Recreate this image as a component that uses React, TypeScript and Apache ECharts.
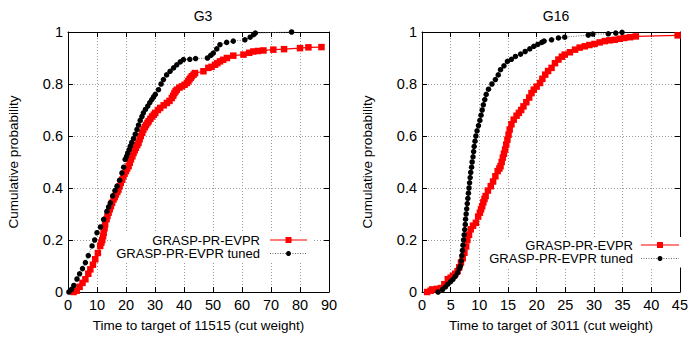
import React, { useEffect, useRef } from "react";
import * as echarts from "echarts";

// ---- data ----
const panelTitles = ["G3", "G16"];
const xAxisNames = ["Time to target of 11515 (cut weight)", "Time to target of 3011 (cut weight)"];
const yAxisName = "Cumulative probability";
const seriesNames = ["GRASP-PR-EVPR", "GRASP-PR-EVPR tuned"];

// G3, GRASP-PR-EVPR (red)
const g3EvprTime = [1.9, 3.0, 4.0, 5.0, 6.0, 7.0, 7.7, 8.6, 9.4, 10.3, 11.1, 11.5, 11.8, 12.1, 12.3, 12.6, 12.8, 13.3, 13.6, 14.0, 14.4, 14.8, 15.2, 15.7, 16.1, 16.5, 17.0, 17.4, 17.8, 18.2, 18.7, 19.1, 19.5, 20.0, 20.4, 20.9, 21.3, 21.7, 22.2, 22.6, 23.0, 23.4, 23.9, 24.3, 24.7, 25.1, 25.6, 26.0, 26.5, 26.9, 27.4, 27.8, 28.4, 29.0, 29.6, 30.1, 31.0, 31.8, 33.0, 34.1, 35.0, 35.8, 36.3, 36.7, 37.1, 37.5, 38.4, 39.3, 40.2, 41.0, 41.5, 41.9, 42.3, 42.7, 43.3, 43.8, 46.7, 48.4, 49.5, 50.7, 51.5, 52.4, 53.5, 54.8, 57.0, 60.5, 62.5, 63.9, 65.5, 67.4, 70.8, 74.5, 80.0, 82.9, 87.4];
const g3EvprProb = [0.0, 0.005, 0.02, 0.035, 0.049, 0.07, 0.087, 0.105, 0.126, 0.15, 0.177, 0.19, 0.2, 0.215, 0.228, 0.245, 0.26, 0.28, 0.292, 0.305, 0.318, 0.33, 0.343, 0.356, 0.365, 0.375, 0.385, 0.394, 0.407, 0.42, 0.432, 0.445, 0.455, 0.465, 0.475, 0.484, 0.497, 0.51, 0.522, 0.535, 0.545, 0.555, 0.565, 0.574, 0.587, 0.6, 0.612, 0.625, 0.634, 0.642, 0.65, 0.657, 0.666, 0.675, 0.682, 0.689, 0.7, 0.708, 0.718, 0.727, 0.735, 0.746, 0.755, 0.765, 0.772, 0.778, 0.786, 0.791, 0.797, 0.804, 0.811, 0.818, 0.824, 0.83, 0.836, 0.842, 0.849, 0.862, 0.866, 0.874, 0.88, 0.887, 0.893, 0.9, 0.909, 0.913, 0.92, 0.925, 0.927, 0.929, 0.932, 0.934, 0.938, 0.941, 0.942];

// G3, GRASP-PR-EVPR tuned (black)
const g3TunedTime = [0.3, 1.2, 2.0, 3.1, 4.0, 5.0, 6.0, 7.0, 8.3, 9.2, 10.0, 11.2, 12.3, 13.4, 14.0, 14.6, 15.4, 16.2, 16.9, 17.8, 18.6, 19.2, 19.7, 20.2, 20.6, 21.1, 21.5, 22.0, 22.6, 23.2, 23.8, 24.3, 24.9, 25.5, 26.0, 26.7, 27.5, 28.2, 28.9, 29.5, 30.1, 31.2, 32.1, 32.9, 34.0, 35.2, 36.4, 37.5, 38.7, 39.8, 42.0, 44.0, 48.1, 49.2, 50.1, 51.3, 52.4, 54.7, 57.0, 61.0, 62.8, 64.0, 64.6, 77.1];
const g3TunedProb = [0.0, 0.01, 0.025, 0.05, 0.07, 0.09, 0.113, 0.14, 0.177, 0.2, 0.228, 0.25, 0.279, 0.31, 0.327, 0.343, 0.37, 0.39, 0.407, 0.43, 0.458, 0.48, 0.51, 0.522, 0.535, 0.548, 0.561, 0.575, 0.59, 0.607, 0.625, 0.642, 0.66, 0.675, 0.689, 0.702, 0.715, 0.728, 0.74, 0.75, 0.76, 0.778, 0.8, 0.817, 0.835, 0.849, 0.862, 0.874, 0.885, 0.894, 0.895, 0.898, 0.9, 0.91, 0.919, 0.935, 0.951, 0.96, 0.965, 0.97, 0.98, 0.99, 0.996, 1.0];

// G16, GRASP-PR-EVPR (red)
const g16EvprTime = [0.9, 1.5, 1.8, 2.6, 3.3, 3.9, 4.5, 5.0, 5.4, 5.8, 6.2, 6.5, 6.8, 7.1, 7.4, 7.7, 7.9, 8.2, 8.5, 8.9, 9.4, 9.8, 10.1, 10.3, 10.5, 10.7, 10.9, 11.1, 11.5, 12.0, 12.4, 12.8, 13.2, 13.5, 13.7, 13.9, 14.1, 14.3, 14.5, 14.7, 14.9, 15.1, 15.3, 15.6, 16.0, 16.5, 16.9, 17.3, 17.7, 18.2, 18.7, 19.1, 19.5, 20.0, 20.6, 21.0, 21.5, 22.0, 22.6, 23.2, 23.8, 24.4, 24.9, 25.8, 26.7, 27.5, 28.4, 29.2, 30.1, 31.0, 31.9, 32.7, 33.6, 34.5, 35.3, 36.3, 37.3, 44.6];
const g16EvprProb = [0.0, 0.005, 0.01, 0.012, 0.015, 0.03, 0.049, 0.055, 0.062, 0.07, 0.08, 0.095, 0.113, 0.13, 0.151, 0.175, 0.2, 0.22, 0.241, 0.255, 0.266, 0.29, 0.305, 0.318, 0.33, 0.345, 0.358, 0.369, 0.39, 0.407, 0.425, 0.445, 0.465, 0.475, 0.484, 0.5, 0.517, 0.532, 0.548, 0.567, 0.586, 0.605, 0.625, 0.645, 0.663, 0.678, 0.689, 0.7, 0.714, 0.73, 0.748, 0.765, 0.778, 0.79, 0.804, 0.82, 0.836, 0.85, 0.862, 0.88, 0.894, 0.905, 0.913, 0.922, 0.932, 0.94, 0.945, 0.95, 0.954, 0.96, 0.965, 0.968, 0.97, 0.974, 0.977, 0.98, 0.983, 0.987];

// G16, GRASP-PR-EVPR tuned (black)
const g16TunedTime = [2.8, 3.6, 4.1, 4.5, 5.0, 5.4, 5.8, 6.2, 6.5, 6.7, 6.85, 6.95, 7.05, 7.15, 7.25, 7.35, 7.45, 7.55, 7.6, 7.7, 7.8, 7.9, 8.0, 8.1, 8.2, 8.3, 8.4, 8.5, 8.65, 8.75, 8.9, 9.0, 9.1, 9.25, 9.4, 9.6, 9.85, 10.1, 10.3, 10.5, 10.7, 10.95, 11.2, 11.6, 12.2, 12.8, 13.3, 13.7, 14.3, 14.9, 15.6, 16.3, 17.2, 18.0, 18.8, 19.5, 20.2, 20.9, 21.3, 22.6, 23.8, 24.9, 29.0, 29.8, 32.5, 33.8, 34.9];
const g16TunedProb = [0.0, 0.01, 0.02, 0.03, 0.04, 0.049, 0.06, 0.074, 0.09, 0.1, 0.12, 0.14, 0.16, 0.18, 0.2, 0.22, 0.24, 0.26, 0.28, 0.3, 0.32, 0.34, 0.36, 0.38, 0.4, 0.42, 0.44, 0.46, 0.48, 0.5, 0.52, 0.54, 0.56, 0.58, 0.6, 0.62, 0.64, 0.66, 0.68, 0.7, 0.72, 0.74, 0.76, 0.78, 0.8, 0.817, 0.835, 0.855, 0.87, 0.887, 0.895, 0.906, 0.915, 0.925, 0.935, 0.945, 0.952, 0.96, 0.965, 0.97, 0.977, 0.98, 0.988, 0.992, 0.993, 0.996, 0.999];

const xMaxes = [90, 45];
const xIntervals = [10, 5];

const FONT = "'Liberation Sans', Arial, Helvetica, sans-serif";
const RED = "#ff0000";
const BLACK = "#000000";

const pairs = (xs: number[], ys: number[]) => xs.map((x, i) => [x, ys[i]]);

export default function App() {
  const ref = useRef<HTMLDivElement>(null);

  useEffect(() => {
    if (!ref.current) return;
    const chart = echarts.init(ref.current, undefined, { renderer: "svg" });

    const grids = [
      { left: 68, top: 32, width: 261, height: 260 },
      { left: 422, top: 32, width: 260, height: 260 },
    ];

    const xAxes: any[] = [];
    const yAxes: any[] = [];
    [0, 1].forEach((g) => {
      xAxes.push({
        type: "value",
        gridIndex: g,
        min: 0,
        max: xMaxes[g],
        interval: xIntervals[g],
        position: "bottom",
        name: xAxisNames[g],
        nameLocation: "middle",
        nameGap: 26,
        nameTextStyle: { fontFamily: FONT, fontSize: 13.5, color: BLACK },
        axisLine: { show: true, onZero: false, lineStyle: { color: BLACK, width: 1 } },
        axisTick: { show: true, inside: true, length: 5, lineStyle: { color: BLACK } },
        axisLabel: { show: true, margin: 5, fontFamily: FONT, fontSize: 14.5, color: BLACK },
        splitLine: { show: true, lineStyle: { color: "#9a9a9a", type: [1, 2], width: 1 } },
      });
      xAxes.push({
        type: "value",
        gridIndex: g,
        min: 0,
        max: xMaxes[g],
        interval: xIntervals[g],
        position: "top",
        axisLine: { show: true, onZero: false, lineStyle: { color: BLACK, width: 1 } },
        axisTick: { show: true, inside: true, length: 5, lineStyle: { color: BLACK } },
        axisLabel: { show: false },
        splitLine: { show: false },
      });
      yAxes.push({
        type: "value",
        gridIndex: g,
        min: 0,
        max: 1,
        interval: 0.2,
        position: "left",
        name: yAxisName,
        nameLocation: "middle",
        nameRotate: 90,
        nameGap: 48,
        nameTextStyle: { fontFamily: FONT, fontSize: 13.5, color: BLACK },
        axisLine: { show: true, onZero: false, lineStyle: { color: BLACK, width: 1 } },
        axisTick: { show: true, inside: true, length: 5, lineStyle: { color: BLACK } },
        axisLabel: {
          show: true,
          margin: 5,
          fontFamily: FONT,
          fontSize: 14.5,
          color: BLACK,
          formatter: (v: number) => String(Math.round(v * 10) / 10),
        },
        splitLine: { show: true, lineStyle: { color: "#9a9a9a", type: [1, 2], width: 1 } },
      });
      yAxes.push({
        type: "value",
        gridIndex: g,
        min: 0,
        max: 1,
        interval: 0.2,
        position: "right",
        axisLine: { show: true, onZero: false, lineStyle: { color: BLACK, width: 1 } },
        axisTick: { show: true, inside: true, length: 5, lineStyle: { color: BLACK } },
        axisLabel: { show: false },
        splitLine: { show: false },
      });
    });

    const redSeries = (name: string, g: number, data: number[][]) => ({
      type: "line",
      name,
      xAxisIndex: g * 2,
      yAxisIndex: g * 2,
      data,
      symbol: "rect",
      symbolSize: 6.5,
      showSymbol: true,
      clip: false,
      lineStyle: { color: RED, width: 1.2 },
      itemStyle: { color: RED },
      z: 3,
    });
    const blackSeries = (name: string, g: number, data: number[][]) => ({
      type: "line",
      name,
      xAxisIndex: g * 2,
      yAxisIndex: g * 2,
      data,
      symbol: "circle",
      symbolSize: 5.5,
      showSymbol: true,
      clip: false,
      lineStyle: { color: "#666", width: 1, type: [1, 1.5] },
      itemStyle: { color: BLACK },
      z: 4,
    });

    const legend = (textRight: number, y1: number, y2: number, x1: number, x2: number, boxLeft: number, boxRight: number) => {
      const mid = (x1 + x2) / 2;
      const ts = (text: string) => ({
        text,
        fill: BLACK,
        font: `13px ${FONT}`,
        lineHeight: 13,
        align: "right",
        verticalAlign: "middle",
      });
      return [
        { type: "rect", shape: { x: boxLeft, y: y1 - 8, width: boxRight - boxLeft, height: y2 - y1 + 17 }, style: { fill: "#fff" }, z: 10 },
        { type: "text", x: textRight, y: y1, style: ts(seriesNames[0]), z: 11 },
        { type: "text", x: textRight, y: y2, style: ts(seriesNames[1]), z: 11 },
        { type: "line", shape: { x1, y1, x2, y2: y1 }, style: { stroke: RED, lineWidth: 1.2 }, z: 11 },
        { type: "rect", shape: { x: mid - 3, y: y1 - 3, width: 6, height: 6 }, style: { fill: RED }, z: 12 },
        { type: "line", shape: { x1, y1: y2, x2, y2 }, style: { stroke: "#666", lineWidth: 1, lineDash: [1, 1.5] }, z: 11 },
        { type: "circle", shape: { cx: mid, cy: y2, r: 2.5 }, style: { fill: BLACK }, z: 12 },
      ];
    };

    chart.setOption({
      animation: false,
      backgroundColor: "#fff",
      title: [
        { text: panelTitles[0], left: 198, top: 4, textAlign: "center", textStyle: { fontFamily: FONT, fontSize: 14, fontWeight: "normal", color: BLACK } },
        { text: panelTitles[1], left: 551, top: 4, textAlign: "center", textStyle: { fontFamily: FONT, fontSize: 14, fontWeight: "normal", color: BLACK } },
      ],
      grid: grids,
      xAxis: xAxes,
      yAxis: yAxes,
      series: [
        redSeries(seriesNames[0], 0, pairs(g3EvprTime, g3EvprProb)),
        blackSeries(seriesNames[1], 0, pairs(g3TunedTime, g3TunedProb)),
        redSeries(seriesNames[0], 1, pairs(g16EvprTime, g16EvprProb)),
        blackSeries(seriesNames[1], 1, pairs(g16TunedTime, g16TunedProb)),
      ],
      graphic: [
        ...legend(260, 240, 253.5, 270, 307, 112, 313),
        ...legend(633, 245, 258.5, 641, 679, 480, 681),
      ],
    });

    return () => chart.dispose();
  }, []);

  return <div ref={ref} style={{ position: "absolute", left: 0, top: 0, width: 691, height: 338 }} />;
}
